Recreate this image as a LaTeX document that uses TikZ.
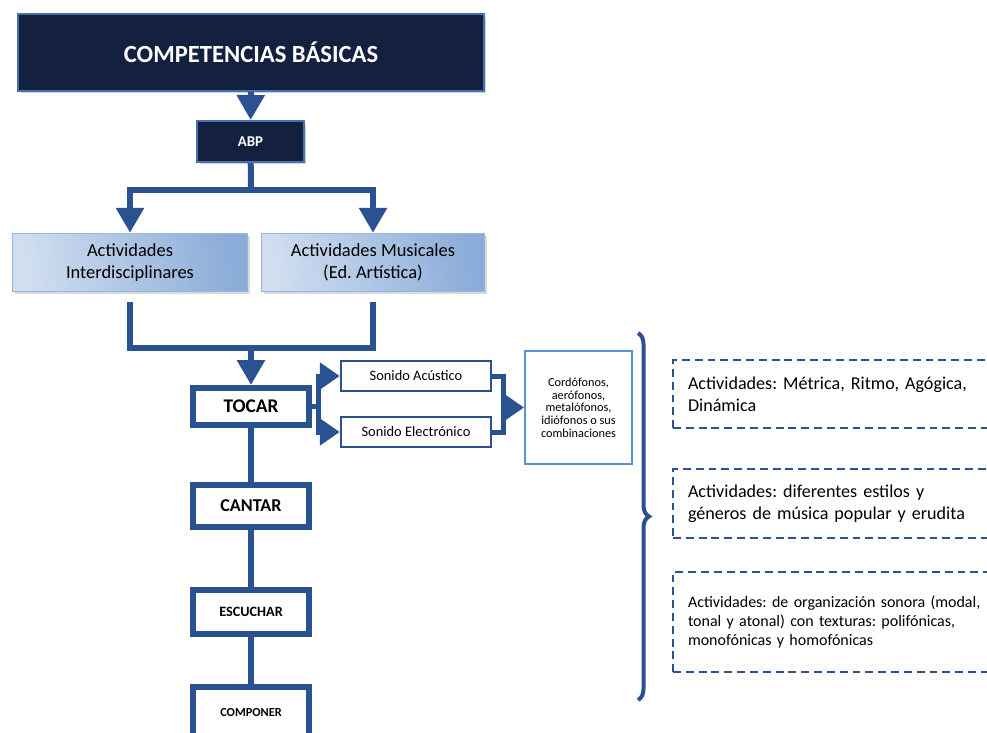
\documentclass[tikz,border=0pt]{standalone}
\usepackage{fontspec}
\setmainfont{Carlito}
\frenchspacing
\usetikzlibrary{positioning,arrows.meta,shadows,decorations.pathreplacing}
\definecolor{navy}{RGB}{19,32,64}
\definecolor{navyedge}{RGB}{72,112,172}
\definecolor{mainblue}{RGB}{42,82,145}
\definecolor{actlight}{RGB}{208,222,240}
\definecolor{actdark}{RGB}{138,172,216}
\definecolor{actedge}{RGB}{150,182,222}
\definecolor{famedge}{RGB}{90,145,210}

\begin{document}
\begin{tikzpicture}[x=0.02cm,y=-0.02cm,
  navybox/.style={draw=navyedge,fill=navy,text=white,line width=0.04cm,align=center,
    drop shadow={shadow xshift=0.05cm,shadow yshift=-0.05cm,opacity=0.35}},
  actbox/.style={draw=actedge,line width=0.03cm,left color=actlight,right color=actdark,
    shading angle=100,align=center,font=\fontsize{10.5}{12.5}\selectfont,
    drop shadow={shadow xshift=0.05cm,shadow yshift=-0.05cm,opacity=0.3}},
  mainbox/.style={draw=mainblue,fill=white,line width=0.12cm,minimum width=2.32cm,font=\bfseries},
  sndbox/.style={draw=mainblue,fill=white,line width=0.05cm,minimum width=3.0cm,minimum height=0.6cm,
    font=\fontsize{8.2}{10}\selectfont},
  famsbox/.style={draw=famedge,line width=0.04cm,align=center,minimum width=2.14cm,minimum height=2.26cm,
    font=\fontsize{7}{7.2}\selectfont},
  actdash/.style={draw=mainblue,line width=0.04cm,dash pattern=on 4.5pt off 2.8pt,anchor=west,
    align=left,text width=6.2cm,inner xsep=0.3cm,font=\fontsize{10.3}{12.5}\selectfont},
  ln/.style={draw=mainblue,line width=0.12cm},
  arr/.style={ln,-{Triangle[length=0.5cm,width=0.54cm]}},
  arrs/.style={draw=mainblue,line width=0.1cm,-{Triangle[length=0.4cm,width=0.52cm]}},
  brace/.style={draw=mainblue,line width=0.08cm,decorate,decoration={brace,amplitude=0.22cm,aspect=0.5}}]
\clip (0,0) rectangle (987,733);
% top of the chart
\node[navybox,minimum width=9.32cm,minimum height=1.54cm,font=\fontsize{14}{16}\selectfont\bfseries] (cb) at (251,52.5) {COMPETENCIAS BÁSICAS};
\node[navybox,minimum width=2.14cm,minimum height=0.82cm,font=\fontsize{8.5}{10}\selectfont\bfseries] (abp) at (250.5,141.5) {ABP};
\node[actbox,minimum width=4.7cm,minimum height=1.16cm] (actI) at (130,262.5) {Actividades\\Interdisciplinares};
\node[actbox,minimum width=4.46cm,minimum height=1.16cm] (actM) at (373,262.5) {Actividades Musicales\\(Ed. Artística)};
% main column
\node[mainbox,minimum height=0.74cm,font=\fontsize{11}{13}\selectfont\bfseries] (tocar) at (251,406.5) {TOCAR};
\node[mainbox,minimum height=0.84cm,font=\fontsize{10.3}{12}\selectfont\bfseries] (cantar) at (251,506) {CANTAR};
\node[mainbox,minimum height=0.88cm,font=\fontsize{8.1}{10}\selectfont\bfseries] (escuchar) at (251,612) {ESCUCHAR};
\node[mainbox,minimum height=1.04cm,font=\fontsize{7}{9}\selectfont\bfseries] (componer) at (251,712.5) {COMPONER};
% sound sources
\node[sndbox] (acus) at (416,376) {Sonido Acústico};
\node[sndbox] (elec) at (416,432) {Sonido Electrónico};
\node[famsbox] (fams) at (578.5,407.5) {Cordófonos,\\aerófonos,\\metalófonos,\\idiófonos o sus\\combinaciones};
% activities on the right
\node[actdash,minimum height=1.36cm] (d1) at (672,394) {Actividades: Métrica, Ritmo, Agógica,\\Dinámica};
\node[actdash,minimum height=1.38cm] (d2) at (672,503.5) {Actividades: diferentes estilos y\\géneros de música popular y erudita};
\node[actdash,minimum height=2cm,font=\fontsize{9.1}{10.8}\selectfont] (d3) at (672,622) {Actividades: de organización sonora (modal,\\tonal y atonal) con texturas: polifónicas,\\monofónicas y homofónicas};
% joints
\coordinate (sp) at (251,190);
\coordinate (mj) at (251,348);
\coordinate (tj) at (318,406.5);
\coordinate (cj) at (503,407.5);
% connectors
\draw[arr] (cb) -- (abp);
\draw[ln] (abp) -- (sp);
\draw[arr] (sp) -| (actI.north);
\draw[arr] (sp) -| (actM.north);
\draw[ln,shorten <=0.2cm] (actI.south) |- (mj);
\draw[ln,shorten <=0.2cm] (actM.south) |- (mj);
\draw[arr] (mj) -- (tocar);
\draw[ln] (tocar) -- (cantar);
\draw[ln] (cantar) -- (escuchar);
\draw[ln] (escuchar) -- (componer);
\draw[draw=mainblue,line width=0.1cm] (tocar.east) -- (tj);
\draw[arrs] (tj) |- (acus.west);
\draw[arrs] (tj) |- (elec.west);
\draw[draw=mainblue,line width=0.1cm] (acus.east) -| (cj) |- (elec.east);
\draw[arrs] (cj) -- (fams.west);
% brace
\draw[brace] (638,333) -- (638,700);
\end{tikzpicture}
\end{document}
